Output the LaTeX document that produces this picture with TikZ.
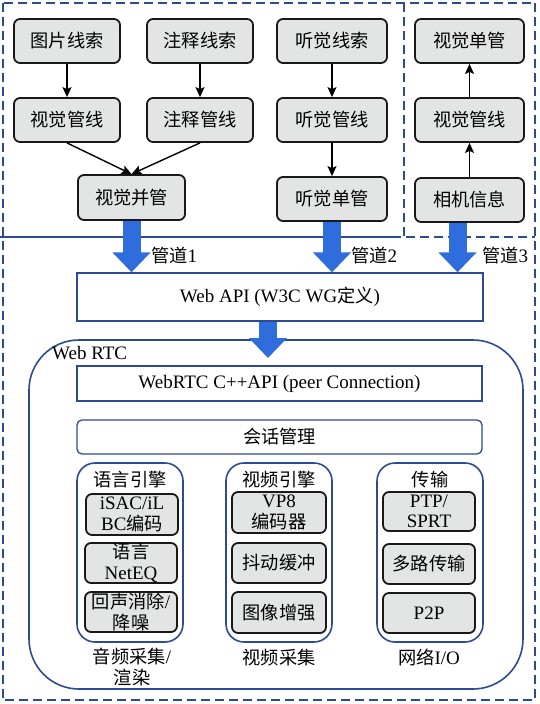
\documentclass[tikz,border=0pt]{standalone}
\usepackage{fontspec}
\setmainfont{Liberation Serif}
\newfontfamily\cjk[Scale=0.96]{Noto Sans CJK SC}
\newcommand\zhs[1]{{\cjk #1}}
\usetikzlibrary{arrows.meta}
\definecolor{dblue}{HTML}{2B4C94}
\definecolor{fatblue}{HTML}{2F6DDC}
\definecolor{boxgray}{HTML}{E3E5E5}
\begin{document}
\begin{tikzpicture}[x=1pt,y=-1pt,
  every node/.style={font=\fontsize{19}{20.5}\selectfont, inner sep=0pt, align=center},
  gbox/.style={draw=black!90, line width=1.8pt, fill=boxgray, rounded corners=6pt},
  topbox/.style={gbox, minimum width=106pt, minimum height=44pt},
  inbox/.style={gbox, minimum width=92pt, minimum height=40pt},
  bluebox/.style={draw=dblue, line width=1.3pt},
  group/.style={draw=dblue, line width=1.6pt, rounded corners=18pt, minimum width=106pt, minimum height=179pt},
  dashline/.style={draw=dblue, line width=2pt, dash pattern=on 9pt off 5pt},
  sepline/.style={draw=dblue, line width=1.6pt},
  arr/.style={draw=black, line width=1.4pt, -{Stealth[length=10pt,width=9pt,inset=2pt]}},
  fat/.style={draw=fatblue, line width=18pt, -{Triangle[width=37pt,length=20pt]}},
  fatlabel/.style={anchor=west},
]
\useasboundingbox (0,0) rectangle (540,704);

% frames
\draw[dashline] (2.5,2.5) rectangle (535,700);
\draw[dashline] (404,2.5) -- (404,237);
\draw[sepline] (0,237) -- (392,237);
\draw[dashline] (392,237) -- (535,237);

% top boxes
\node[topbox] (p1) at (67,41) {\zhs{图片线索}};
\node[topbox] (p2) at (200,41) {\zhs{注释线索}};
\node[topbox] (v1) at (67,120) {\zhs{视觉管线}};
\node[topbox] (v2) at (200,120) {\zhs{注释管线}};
\node[topbox, minimum width=107pt, minimum height=45pt] (vb) at (131.5,197.5) {\zhs{视觉并管}};
\node[topbox, minimum width=110pt] (a1) at (332,41) {\zhs{听觉线索}};
\node[topbox, minimum width=110pt] (a2) at (332,120) {\zhs{听觉管线}};
\node[topbox, minimum width=110pt] (a3) at (332,199) {\zhs{听觉单管}};
\node[topbox, minimum width=109pt] (c3) at (469.5,41) {\zhs{视觉单管}};
\node[topbox, minimum width=109pt] (c2) at (469.5,120) {\zhs{视觉管线}};
\node[topbox, minimum width=109pt] (c1) at (469.5,200) {\zhs{相机信息}};

\draw[arr] (p1) -- (v1);
\draw[arr] (p2) -- (v2);
\draw[arr] (v1.south) -- (vb.north);
\draw[arr] (v2.south) -- (vb.north);
\draw[arr] (a1) -- (a2);
\draw[arr] (a2) -- (a3);
\draw[arr] (c1) -- (c2);
\draw[arr] (c2) -- (c3);

% web api
\node[bluebox, minimum width=406pt, minimum height=48pt] (webapi) at (280,297) {Web API (W3C WG\zhs{定义})};

% fat arrows
\draw[fat] (vb.south) -- (vb.south |- webapi.north);
\draw[fat] (a3.south) -- (a3.south |- webapi.north);
\draw[fat] ([xshift=-12pt]c1.south) -- ([xshift=-12pt]c1.south |- webapi.north);
\node[fatlabel] (l1) at (151,256) {\zhs{管道}1};
\node[fatlabel] (l2) at (351,256) {\zhs{管道}2};
\node[fatlabel] (l3) at (482,256) {\zhs{管道}3};

% WebRTC
\node[draw=dblue, line width=1.6pt, rounded corners=50pt, minimum width=494pt, minimum height=349pt] (rtc) at (276,514.5) {};
\coordinate (rtcin) at (268,358);
\draw[fat] ([xshift=-12pt]webapi.south) -- (rtcin);
\node[anchor=west] (rtclabel) at (52,353) {Web RTC};

\node[bluebox, minimum width=405pt, minimum height=35pt] (cpp) at (279.5,383.5) {WebRTC C++API (peer Connection)};
\node[bluebox, rounded corners=5pt, minimum width=405pt, minimum height=34pt] (sess) at (279.5,437) {\zhs{会话管理}};

% groups
\node[group] (g1) at (130,552.5) {};
\node[group] (g2) at (279,552.5) {};
\node[group] (g3) at (430,552.5) {};
\node (t1) at (130,480) {\zhs{语言引擎}};
\node (t2) at (279,480) {\zhs{视频引擎}};
\node (t3) at (430,480) {\zhs{传输}};

\node[inbox, minimum height=41pt] (i11) at (132,514.5) {iSAC/iL\\BC\zhs{编码}};
\node[inbox] (i12) at (131,563) {\zhs{语言}\\NetEQ};
\node[inbox] (i13) at (131,612) {\zhs{回声消除}/\\\zhs{降噪}};

\node[inbox, minimum width=94pt, minimum height=41pt] (i21) at (279,512.5) {VP8\\\zhs{编码器}};
\node[inbox, minimum width=94pt] (i22) at (279,563) {\zhs{抖动缓冲}};
\node[inbox, minimum width=94pt, minimum height=41pt] (i23) at (279,612.5) {\zhs{图像增强}};

\node[inbox, minimum height=39pt] (i31) at (429,511.5) {PTP/\\SPRT};
\node[inbox] (i32) at (429,564) {\zhs{多路传输}};
\node[inbox] (i33) at (429,613) {P2P};

\node (b1) at (132,667) {\zhs{音频采集}/\\\zhs{渲染}};
\node (b2) at (279,658) {\zhs{视频采集}};
\node (b3) at (429,657) {\zhs{网络}I/O};
\end{tikzpicture}
\end{document}
